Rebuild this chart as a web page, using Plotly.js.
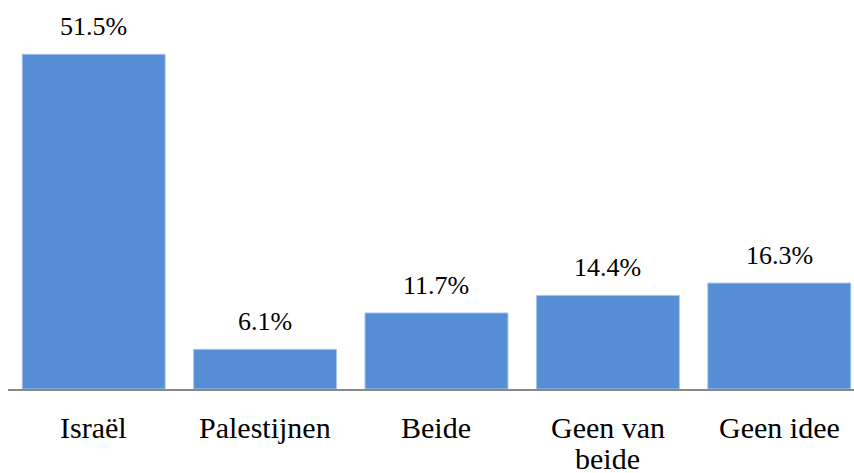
<!DOCTYPE html>
<html>
<head>
<meta charset="utf-8">
<script src="https://cdn.plot.ly/plotly-3.0.1.min.js"></script>
<style>html,body{margin:0;padding:0;background:#fff;}
#chart{position:relative;z-index:1;width:854px;height:473px;}
#warm{position:absolute;right:6px;top:4px;z-index:2;font-family:'Liberation Serif';font-size:14px;color:#fff;}</style>
</head>
<body>
<div id="chart"></div>
<div id="warm">.</div>
<script>
const categories = ["Israël", "Palestijnen", "Beide", "Geen van beide", "Geen idee"];
const tickLines = [["Israël"], ["Palestijnen"], ["Beide"], ["Geen van", "beide"], ["Geen idee"]];
const values = [51.5, 6.1, 11.7, 14.4, 16.3];
const valueLabels = ["51.5%", "6.1%", "11.7%", "14.4%", "16.3%"];

const FONT = "Liberation Serif";

const trace = {
  type: "bar",
  x: categories,
  y: values,
  marker: {color: "#558ED5", line: {color: "#A9C5EC", width: 1}}
};

const annotations = [];
categories.forEach((c, i) => {
  annotations.push({
    x: c, y: values[i], xref: "x", yref: "y",
    text: valueLabels[i], showarrow: false,
    yanchor: "bottom", yshift: 11,
    font: {family: FONT, size: 26, color: "#000"}
  });
  tickLines[i].forEach((line, j) => {
    annotations.push({
      x: c, y: 0, xref: "x", yref: "y",
      text: line, showarrow: false,
      yanchor: "top", yshift: -20 - 31 * j,
      font: {family: FONT, size: 30, color: "#000"}
    });
  });
});

const layout = {
  width: 854, height: 473,
  margin: {l: 8, r: 0, t: 0, b: 84},
  paper_bgcolor: "#fff", plot_bgcolor: "#fff",
  bargap: 0.166,
  showlegend: false,
  font: {family: FONT},
  xaxis: {
    type: "category",
    range: [-0.5, 4.436],
    showline: true, linecolor: "#888", linewidth: 2,
    ticks: "", showgrid: false, zeroline: false,
    showticklabels: false
  },
  yaxis: {
    range: [0, 59.85],
    visible: false, showgrid: false, zeroline: false
  },
  annotations: annotations
};

Plotly.newPlot("chart", [trace], layout, {staticPlot: true}).then(() => {
  document.getElementById("warm").textContent = ". ";
});
</script>
</body>
</html>
